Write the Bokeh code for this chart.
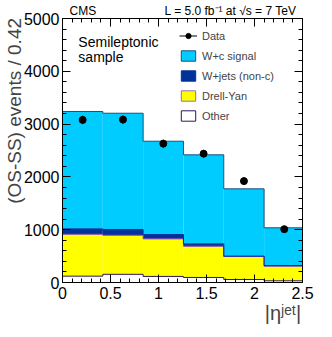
import numpy as np
from bokeh.plotting import figure
from bokeh.models import (ColumnDataSource, Range1d, LinearAxis, SingleIntervalTicker, FixedTicker,
                          NumeralTickFormatter, Legend, LegendItem, Label)
from bokeh.embed import file_html
from bokeh.resources import INLINE

# ---- data ----
bin_edges = [0.0, 0.42, 0.84, 1.26, 1.68, 2.10, 2.52]
other = [120, 155, 115, 95, 57, 32]
drell_yan = [795, 741, 712, 593, 435, 277]
wjets_nonc = [101, 108, 82, 45, 8, 13]
wc_signal = [2223, 2202, 1767, 1685, 1274, 714]
data_vals = [3080, 3085, 2630, 2440, 1920, 1010]
data_errs = [80, 80, 75, 70, 65, 55]
header_texts = ["CMS", "L = 5.0 fb\u207b\u00b9 at \u221as = 7 TeV"]
y_title = "(OS-SS) events / 0.42"
x_title = "|\u03b7\u02b2\u1d49\u1d57|"

FONT = "Liberation Sans"
NBSP = "\u00a0"
C_WC, C_WJ, C_DY, C_OT = "#00ccff", "#003399", "#ffff00", "#ffffff"
L_WC, L_WJ, L_DY, L_OT = "#1f4e79", "#003399", "#7f3fbf", "#2f1660"

lo = np.array(bin_edges[:-1]); hi = np.array(bin_edges[1:])
c1 = np.array(other, float)
c2 = c1 + np.array(drell_yan)
c3 = c2 + np.array(wjets_nonc)
c4 = c3 + np.array(wc_signal)
centers = (lo + hi) / 2

p = figure(width=332, height=337, output_backend="svg", toolbar_location=None,
           x_range=Range1d(0, 2.5), y_range=Range1d(0, 5000),
           min_border_left=60, min_border_right=30, min_border_top=18, min_border_bottom=55)
p.background_fill_color = "white"
p.border_fill_color = "white"
p.outline_line_color = "black"
p.xgrid.visible = False
p.ygrid.visible = False

for bottom, top, col in [(np.zeros(6), c1, C_OT), (c1, c2, C_DY), (c2, c3, C_WJ), (c3, c4, C_WC)]:
    p.quad(left=lo, right=hi, bottom=bottom, top=top, fill_color=col, line_color=None)

xs = list(bin_edges)
for cum, lc in [(c1, L_OT), (c2, L_DY), (c3, L_WJ), (c4, L_WC)]:
    p.step(xs, list(cum) + [cum[-1]], mode="after", line_color=lc, line_width=1)

src = ColumnDataSource(dict(x=centers, y=data_vals,
                            ylo=np.array(data_vals) - np.array(data_errs),
                            yhi=np.array(data_vals) + np.array(data_errs)))
err = p.segment(x0="x", x1="x", y0="ylo", y1="yhi", source=src, line_color="black", line_width=1)
pts = p.scatter("x", "y", source=src, size=7, marker="circle", fill_color="black", line_color="black")

def proxy(fc, lc):
    s = ColumnDataSource(dict(left=[np.nan], right=[np.nan], bottom=[np.nan], top=[np.nan]))
    return p.quad(source=s, left="left", right="right", bottom="bottom", top="top",
                  fill_color=fc, line_color=lc, line_width=1)

q_wc = proxy(C_WC, L_WC)
q_wj = proxy(C_WJ, L_WJ)
q_dy = proxy(C_DY, "#9966cc")
q_ot = proxy(C_OT, L_OT)

legend = Legend(items=[
    LegendItem(label="Data", renderers=[err, pts]),
    LegendItem(label="W+c signal", renderers=[q_wc]),
    LegendItem(label="W+jets (non-c)", renderers=[q_wj]),
    LegendItem(label="Drell-Yan", renderers=[q_dy]),
    LegendItem(label="Other", renderers=[q_ot]),
], location=(117, 160), glyph_width=18, glyph_height=13, label_height=13, label_standoff=5,
   spacing=7, padding=0, margin=0, border_line_color=None, background_fill_alpha=0,
   label_text_font=FONT, label_text_font_size="11px")
p.add_layout(legend, "center")

def style_axis(ax, interval, show_labels, fmt=None):
    ax.ticker = SingleIntervalTicker(interval=interval, num_minor_ticks=5)
    ax.axis_line_color = "black"
    ax.major_tick_in = 8
    ax.major_tick_out = 0
    ax.minor_tick_in = 4
    ax.minor_tick_out = 0
    ax.major_tick_line_color = "black"
    ax.minor_tick_line_color = "black"
    ax.major_label_text_font = FONT
    if show_labels:
        ax.major_label_text_font_size = "16px"
        ax.major_label_text_color = "black"
    else:
        ax.major_label_text_font_size = "0px"
        ax.major_label_text_color = None
        ax.major_label_standoff = 0
    if fmt is not None:
        ax.formatter = fmt

bottom_ax = p.below[0]
left_ax = p.left[0]
style_axis(bottom_ax, 0.5, True, NumeralTickFormatter(format="0.[0]"))
bottom_ax.major_label_standoff = 4
style_axis(left_ax, 1000, True)
left_ax.major_label_standoff = 3

# y title: centred label, padded at its start so the visible text ends at the frame top
left_ax.axis_label = NBSP * 15 + y_title
left_ax.axis_label_text_font = FONT
left_ax.axis_label_text_font_size = "19px"
left_ax.axis_label_text_font_style = "normal"
left_ax.axis_label_standoff = -4
left_ax.axis_label_align = "center"

# x title: label centred at the frame's right end, padded at its end
bottom_ax.axis_label = x_title + NBSP * 7
bottom_ax.axis_label_text_font = FONT
bottom_ax.axis_label_text_font_size = "20px"
bottom_ax.axis_label_text_font_style = "normal"
bottom_ax.axis_label_standoff = 0
bottom_ax.axis_label_align = "end"

top_ax = LinearAxis(); style_axis(top_ax, 0.5, False)
right_ax = LinearAxis(); style_axis(right_ax, 1000, False)
p.add_layout(top_ax, "above")
p.add_layout(right_ax, "right")

# header row: "CMS" and luminosity, as labels of a tickless top axis
hdr_pos = [0.212, 1.751]
hdr_ax = LinearAxis(ticker=FixedTicker(ticks=hdr_pos, minor_ticks=[]),
                     major_label_overrides={hdr_pos[0]: header_texts[0], hdr_pos[1]: header_texts[1]},
                     axis_line_color=None, major_tick_line_color=None, minor_tick_line_color=None,
                     major_tick_in=0, major_tick_out=0, minor_tick_in=0, minor_tick_out=0,
                     major_label_standoff=1, major_label_text_font=FONT,
                     major_label_text_font_size="12px", major_label_text_color="black")
p.add_layout(hdr_ax, "above")

def lab(text, x, y, size, **kw):
    p.add_layout(Label(x=x, y=y, text=text, text_font=FONT, text_font_size=size,
                       text_color="black", **kw))

lab("Semileptonic", 0.165, 4394, "14px")
lab("sample", 0.165, 4110, "14px")

open("out.html", "w").write(file_html(p, INLINE))
